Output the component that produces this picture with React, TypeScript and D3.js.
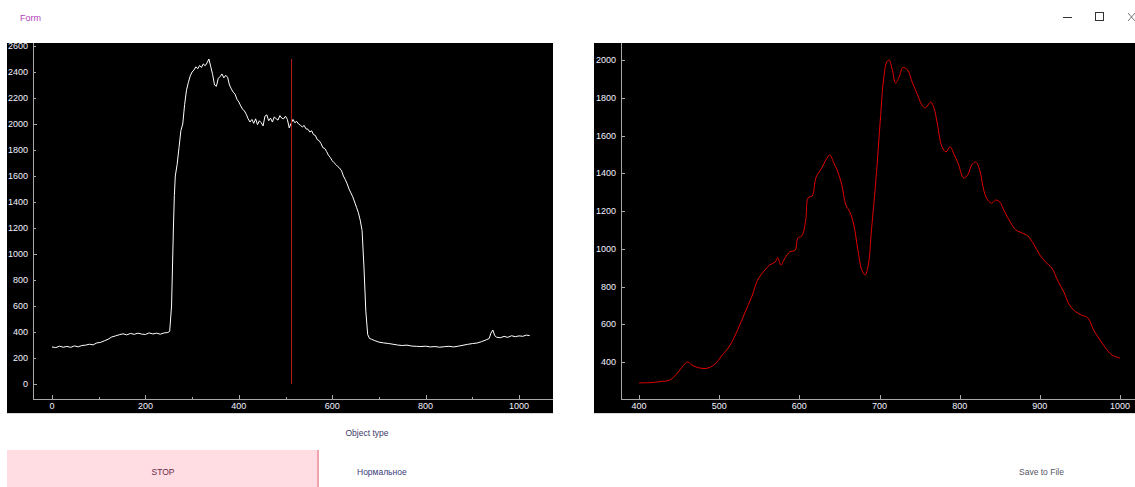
import React from "react";
import * as d3 from "d3";

// ---------- Left chart (raw signal) ----------
const leftX: number[] = [
  0, 8, 16, 24, 32, 40, 48, 56, 64, 72, 80, 88, 96, 104, 112, 120, 128, 136, 144, 152,
  160, 168, 176, 184, 192, 200, 208, 216, 224, 232, 240, 248, 252, 256, 258, 260, 262, 264, 268, 272,
  276, 280, 284, 288, 292, 296, 300, 304, 308, 312, 316, 320, 324, 328, 332, 336, 340, 344, 348, 352,
  356, 360, 364, 368, 372, 376, 380, 384, 388, 392, 396, 400, 404, 408, 412, 416, 420, 424, 428, 432,
  436, 440, 444, 448, 452, 456, 460, 464, 468, 472, 476, 480, 484, 488, 492, 496, 500, 504, 508, 512,
  516, 520, 524, 528, 532, 536, 540, 544, 548, 552, 556, 560, 564, 568, 572, 576, 580, 584, 588, 592,
  596, 600, 604, 608, 612, 616, 620, 624, 628, 632, 636, 640, 644, 648, 652, 656, 660, 664, 668, 672,
  676, 680, 684, 690, 700, 710, 720, 730, 740, 750, 760, 770, 780, 790, 800, 810, 820, 830, 840, 850,
  860, 870, 880, 890, 900, 910, 920, 930, 936, 940, 944, 948, 952, 960, 968, 976, 984, 992, 1000, 1008,
  1016, 1023,
];
const leftY: number[] = [
  285, 280, 291, 283, 289, 282, 293, 286, 296, 299, 306, 301, 316, 320, 332, 344, 362, 370, 379, 386,
  378, 389, 382, 391, 384, 381, 393, 385, 391, 383, 393, 396, 405, 600, 900, 1200, 1450, 1600, 1690, 1820,
  1950, 2000, 2150, 2260, 2320, 2370, 2400, 2415, 2440, 2425, 2450, 2435, 2462, 2448, 2470, 2500, 2440, 2380, 2300, 2290,
  2350, 2365, 2385, 2355, 2375, 2360, 2300, 2270, 2245, 2230, 2190, 2170, 2140, 2115, 2100, 2075, 2040, 2015, 2035, 2005,
  2040, 1995, 2025, 2010, 1985, 2060, 2070, 2025, 2045, 2015, 2055, 2040, 2030, 2065, 2045, 2040, 2060, 2035, 1970, 2005,
  2035, 2010, 2020, 2000, 1990, 1978, 1988, 1962, 1960, 1938, 1948, 1918, 1912, 1880, 1872, 1850, 1818, 1812, 1788, 1760,
  1742, 1718, 1702, 1688, 1672, 1660, 1640, 1600, 1572, 1540, 1500, 1470, 1440, 1400, 1360, 1318, 1260, 1180, 900, 560,
  380, 350, 345, 335, 322, 316, 312, 306, 300, 296, 299, 292, 290, 288, 291, 285, 288, 283, 287, 290,
  285, 291, 298, 305, 311, 315, 326, 340, 350, 392, 415, 372, 360, 356, 366, 359, 371, 364, 370, 367,
  376, 372,
];
const leftMarkerX = 511;
const leftMarkerTop = 2500;
const leftXTicks: number[] = [0, 200, 400, 600, 800, 1000];
const leftXMinor: number[] = [-100, 100, 300, 500, 700, 900];
const leftYTicks: number[] = [0, 200, 400, 600, 800, 1000, 1200, 1400, 1600, 1800, 2000, 2200, 2400, 2600];

// ---------- Right chart (processed spectrum) ----------
const rightX: number[] = [
  400, 415, 426, 439, 449, 457, 461, 466, 476, 486, 495, 503, 513, 523, 532, 541, 548, 557, 563, 570,
  573, 577, 582, 588, 595, 598, 603, 608, 611, 616, 621, 628, 633, 638, 643, 648, 653, 658, 663, 668,
  673, 678, 682, 686, 690, 696, 701, 705, 709, 712, 716, 720, 725, 729, 735, 741, 747, 753, 757, 764,
  768, 772, 778, 783, 788, 793, 798, 805, 810, 815, 820, 825, 830, 835, 840, 845, 850, 855, 863, 870,
  878, 885, 893, 900, 907, 915, 922, 930, 937, 945, 952, 960, 967, 975, 982, 990, 1000,
];
const rightY: number[] = [
  289, 291, 296, 306, 347, 390, 400, 384, 368, 368, 390, 432, 485, 570, 660, 750, 834, 887, 914, 930,
  952, 914, 950, 983, 993, 1057, 1068, 1152, 1270, 1280, 1380, 1428, 1470, 1497, 1454, 1407, 1338, 1232, 1195, 1126,
  993, 887, 861, 914, 1100, 1390, 1682, 1894, 1989, 2000, 1947, 1878, 1915, 1960, 1947, 1880, 1820, 1761, 1746, 1777,
  1745, 1666, 1540, 1513, 1540, 1500, 1454, 1375, 1391, 1444, 1460, 1417, 1311, 1258, 1242, 1258, 1248, 1205, 1142, 1100,
  1083, 1068, 1020, 967, 930, 898, 834, 770, 702, 665, 649, 633, 570, 517, 474, 437, 421,
];
const rightXTicks: number[] = [400, 500, 600, 700, 800, 900, 1000];
const rightYTicks: number[] = [400, 600, 800, 1000, 1200, 1400, 1600, 1800, 2000];

const labelFont = "'Liberation Sans', Arial, sans-serif";
const tickColor = "#f2f0ff";
const axisColor = "#a8a8a8";

export default function App() {
  // left scales
  const xL = d3.scaleLinear().domain([0, 1000]).range([52, 519]);
  const yL = d3.scaleLinear().domain([0, 2600]).range([384, 46]);
  // right scales
  const xR = d3.scaleLinear().domain([400, 1000]).range([639, 1120]);
  const yR = d3.scaleLinear().domain([400, 2000]).range([362, 60]);

  const leftLine = d3
    .line<number>()
    .x((_, i) => xL(leftX[i]))
    .y((d) => yL(d));
  const rightLine = d3
    .line<number>()
    .x((_, i) => xR(rightX[i]))
    .y((d) => yR(d))
    .curve(d3.curveCatmullRom.alpha(0.5));

  const L = { x0: 7, x1: 553, y0: 43, y1: 413, ax: 33, ay: 399 };
  const R = { x0: 594, x1: 1135, y0: 43, y1: 413, ax: 621, ay: 399 };

  return (
    <svg
      width={1135}
      height={487}
      style={{ position: "absolute", left: 0, top: 0, display: "block", background: "#ffffff" }}
    >
      {/* title bar */}
      <text x={20} y={21} fontFamily={labelFont} fontSize={9} fill="#b23cb8">
        Form
      </text>
      <line x1={1063} x2={1072} y1={17.5} y2={17.5} stroke="#333" strokeWidth={1} />
      <rect x={1095.5} y={12.5} width={8} height={8} fill="none" stroke="#333" strokeWidth={1} />
      <line x1={1128} x2={1135} y1={13} y2={21} stroke="#555" strokeWidth={0.8} />
      <line x1={1135} x2={1128} y1={13} y2={21} stroke="#555" strokeWidth={0.8} />

      {/* ---------- left panel ---------- */}
      <rect x={L.x0} y={L.y0} width={L.x1 - L.x0} height={L.y1 - L.y0} fill="#000" />
      <line x1={L.x0} x2={L.x1} y1={L.y1 + 0.5} y2={L.y1 + 0.5} stroke="#d8d8d8" />
      <line x1={L.ax + 0.5} x2={L.ax + 0.5} y1={L.y0} y2={L.ay} stroke={axisColor} />
      <line x1={L.ax} x2={L.x1} y1={L.ay + 0.5} y2={L.ay + 0.5} stroke={axisColor} />
      {leftYTicks.map((t) => (
        <g key={"ly" + t}>
          <line
            x1={L.ax + 1}
            x2={L.ax + (t % 1000 === 0 ? 4 : 3)}
            y1={Math.round(yL(t)) + 0.5}
            y2={Math.round(yL(t)) + 0.5}
            stroke={axisColor}
          />
          <text
            x={28}
            y={yL(t) + 3}
            textAnchor="end"
            fontFamily={labelFont}
            fontSize={9}
            fill={tickColor}
          >
            {t}
          </text>
        </g>
      ))}
      {leftXTicks.map((t) => (
        <g key={"lx" + t}>
          <line
            x1={Math.round(xL(t)) + 0.5}
            x2={Math.round(xL(t)) + 0.5}
            y1={L.ay}
            y2={L.ay - 4}
            stroke={axisColor}
          />
          <text
            x={xL(t)}
            y={409}
            textAnchor="middle"
            fontFamily={labelFont}
            fontSize={9}
            fill={tickColor}
          >
            {t}
          </text>
        </g>
      ))}
      {leftXMinor
        .filter((t) => xL(t) > L.ax)
        .map((t) => (
          <line
            key={"lxm" + t}
            x1={Math.round(xL(t)) + 0.5}
            x2={Math.round(xL(t)) + 0.5}
            y1={L.ay}
            y2={L.ay - 2}
            stroke={axisColor}
          />
        ))}
      <path d={leftLine(leftY) || ""} fill="none" stroke="#ffffff" strokeWidth={1} />
      <line
        x1={Math.round(xL(leftMarkerX)) + 0.5}
        x2={Math.round(xL(leftMarkerX)) + 0.5}
        y1={yL(leftMarkerTop)}
        y2={yL(0)}
        stroke="#b01818"
        strokeWidth={1}
      />

      {/* ---------- right panel ---------- */}
      <rect x={R.x0} y={R.y0} width={R.x1 - R.x0} height={R.y1 - R.y0} fill="#000" />
      <line x1={R.x0} x2={R.x1} y1={R.y1 + 0.5} y2={R.y1 + 0.5} stroke="#d8d8d8" />
      <line x1={R.ax + 0.5} x2={R.ax + 0.5} y1={R.y0} y2={R.ay} stroke={axisColor} />
      <line x1={R.ax} x2={R.x1} y1={R.ay + 0.5} y2={R.ay + 0.5} stroke={axisColor} />
      {rightYTicks.map((t) => (
        <g key={"ry" + t}>
          <line
            x1={R.ax + 1}
            x2={R.ax + 4}
            y1={Math.round(yR(t)) + 0.5}
            y2={Math.round(yR(t)) + 0.5}
            stroke={axisColor}
          />
          <text
            x={616}
            y={yR(t) + 3}
            textAnchor="end"
            fontFamily={labelFont}
            fontSize={9}
            fill={tickColor}
          >
            {t}
          </text>
        </g>
      ))}
      {rightXTicks.map((t) => (
        <g key={"rx" + t}>
          <line
            x1={Math.round(xR(t)) + 0.5}
            x2={Math.round(xR(t)) + 0.5}
            y1={R.ay}
            y2={R.ay - 4}
            stroke={axisColor}
          />
          <text
            x={xR(t)}
            y={409}
            textAnchor="middle"
            fontFamily={labelFont}
            fontSize={9}
            fill={tickColor}
          >
            {t}
          </text>
        </g>
      ))}
      <path d={rightLine(rightY) || ""} fill="none" stroke="#e00000" strokeWidth={1} />

      {/* ---------- bottom controls ---------- */}
      <text x={367} y={436} textAnchor="middle" fontFamily={labelFont} fontSize={8.5} fill="#3a3a6a">
        Object type
      </text>
      <rect x={7} y={450} width={311} height={37} fill="#ffdde3" />
      <rect x={317} y={450} width={2} height={37} fill="#f2a2ac" />
      <text x={163} y={475} textAnchor="middle" fontFamily={labelFont} fontSize={8.5} fill="#6a2a48">
        STOP
      </text>
      <text x={357} y={475} fontFamily={labelFont} fontSize={8.5} fill="#3a3a7a">
        Нормальное
      </text>
      <text x={1019} y={475} fontFamily={labelFont} fontSize={8.5} fill="#555566">
        Save to File
      </text>
    </svg>
  );
}
